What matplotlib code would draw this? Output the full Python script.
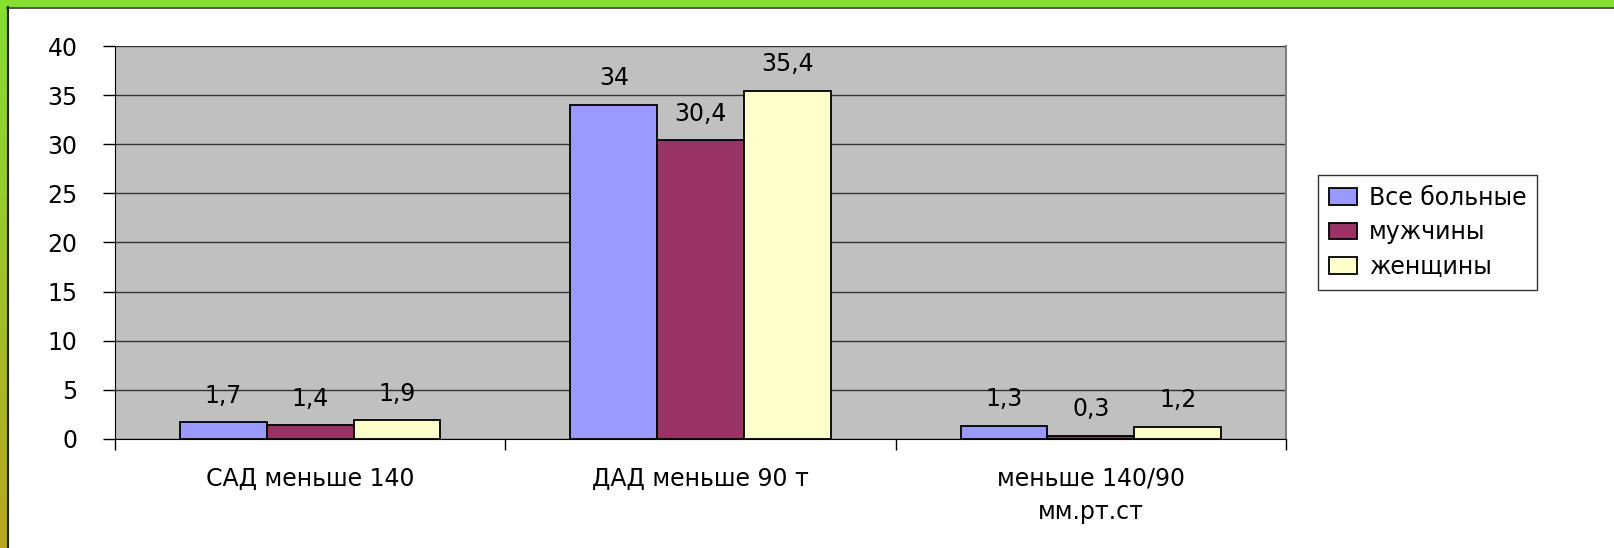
import numpy as np
import matplotlib.pyplot as plt
from matplotlib.colors import LinearSegmentedColormap

# Data
categories = ['САД меньше 140', 'ДАД меньше 90 т', 'меньше 140/90\nмм.рт.ст']
series_names = ['Все больные', 'мужчины', 'женщины']
all_patients = [1.7, 34, 1.3]
men = [1.4, 30.4, 0.3]
women = [1.9, 35.4, 1.2]
colors = ['#9999FF', '#993366', '#FFFFCC']

plt.rcParams['font.family'] = ['DejaVu Sans']
FS = 17

W, H = 1614, 548
fig = plt.figure(figsize=(W / 100, H / 100), dpi=100)
fig.patch.set_facecolor('white')

# Slide frame: green top band, gradient band on the left
frame = fig.add_axes([0, 0, 1, 1], zorder=-5)
frame.set_xlim(0, W)
frame.set_ylim(H, 0)
frame.axis('off')
cmap = LinearSegmentedColormap.from_list('frame', ['#84E02C', '#B8A818'])
grad = np.linspace(0, 1, 256).reshape(-1, 1)
frame.imshow(grad, cmap=cmap, extent=[0, 7, H, 0], aspect='auto')
frame.add_patch(plt.Rectangle((0, 0), W, 7, color='#84E02C', lw=0))
frame.plot([7.5, 7.5], [7, H], color='#222222', lw=1.5)
frame.plot([7, W], [7.5, 7.5], color='#333333', lw=1.2)

# Plot area
left, right, top, bottom = 115, 1286, 46, 439
ax = fig.add_axes([left / W, 1 - bottom / H, (right - left) / W, (bottom - top) / H])
ax.set_facecolor('#C0C0C0')

x = np.arange(len(categories))
bw = 2 / 3 / 3
series = [all_patients, men, women]
for i, (vals, name, c) in enumerate(zip(series, series_names, colors)):
    pos = x + (i - 1) * bw
    ax.bar(pos, vals, width=bw, color=c, edgecolor='black', linewidth=1.3,
           label=name, zorder=3)
    for p, v in zip(pos, vals):
        ax.text(p, v + 1.5, str(v).replace('.', ','), ha='center', va='bottom',
                fontsize=FS, zorder=4)

ax.set_xlim(-0.5, 2.5)
ax.set_ylim(0, 40)
ax.set_yticks(range(0, 41, 5))
ax.yaxis.grid(True, color='#333333', linewidth=1, zorder=1)
ax.set_axisbelow(True)

ax.set_xticks([-0.5, 0.5, 1.5, 2.5])
ax.set_xticklabels([])
ax.set_xticks(x, minor=True)
ax.set_xticklabels(categories, minor=True, fontsize=FS, linespacing=1.5)
ax.tick_params(axis='x', which='major', direction='out', length=8, width=1)
ax.tick_params(axis='x', which='minor', length=0, pad=20)
ax.tick_params(axis='y', direction='out', length=9, width=1, pad=18, labelsize=FS)

ax.spines['left'].set_color('black')
ax.spines['bottom'].set_color('black')
ax.spines['top'].set_visible(False)
ax.spines['right'].set_color('#808080')
ax.spines['right'].set_linewidth(1.5)

leg = fig.legend(loc='upper left', bbox_to_anchor=(1318 / W, 1 - 175 / H),
                 borderaxespad=0,
                 fontsize=FS, frameon=True, fancybox=False, edgecolor='black',
                 handlelength=1.2, handleheight=0.7, handletextpad=0.5,
                 labelspacing=0.45, borderpad=0.45)
leg.get_frame().set_linewidth(1)

fig.savefig('out.png', dpi=100)
